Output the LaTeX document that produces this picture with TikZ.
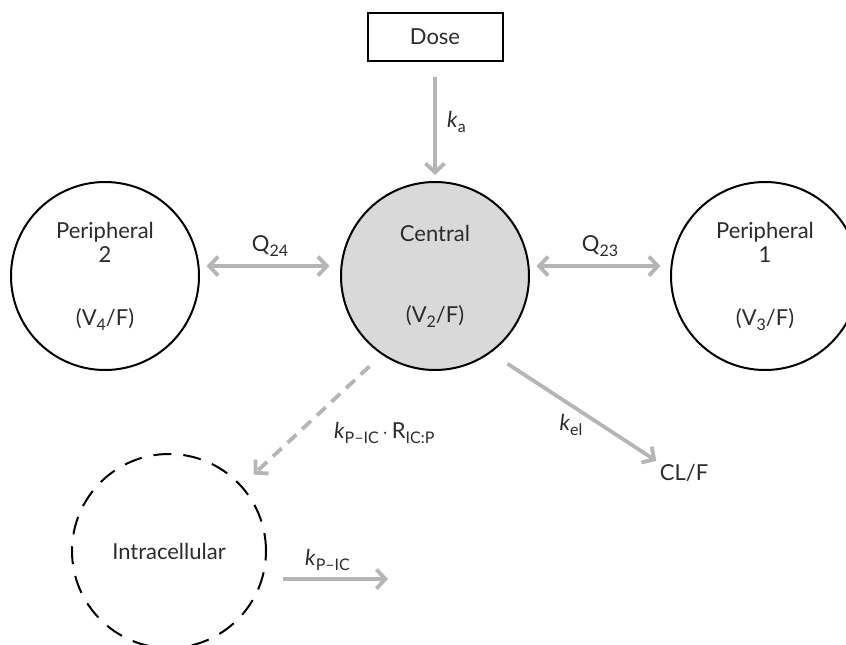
\documentclass[tikz,border=0pt]{standalone}
\usepackage{fontspec}
\setmainfont{Lato}
\usetikzlibrary{positioning,arrows.meta}
\definecolor{flowgray}{HTML}{B5B5B5}
\definecolor{inkgray}{HTML}{2B2B2B}
\newcommand{\lowsub}[1]{\raisebox{-0.45ex}{\fontsize{16}{16}\selectfont #1}}

\begin{document}
\begin{tikzpicture}[x=1pt, y=-1pt, node distance=140pt,
    >={Straight Barb[length=9pt,width=19pt]},
    every node/.style={font=\fontsize{22}{24}\selectfont, text=inkgray},
    comp/.style={circle, draw=black, line width=2pt, minimum size=188pt, align=center, inner sep=0pt},
    flow/.style={draw=flowgray, line width=3.8pt}]
    \useasboundingbox (0,0) rectangle (846,645);

    % compartments
    \node[comp, fill=black!15] (central) at (435,276) {Central\\[57pt](V\lowsub{2}/F)};
    \node[comp, left=of central] (periph2) {Peripheral\\2\\[39pt](V\lowsub{4}/F)};
    \node[comp, right=of central] (periph1) {Peripheral\\1\\[39pt](V\lowsub{3}/F)};
    \node[comp, dashed, dash pattern=on 18pt off 12pt, minimum size=194pt] (intra) at (169,551) {Intracellular};

    % dose and elimination
    \node[draw=black, line width=2pt, minimum width=135pt, minimum height=48pt, above=119pt of central] (dose) {Dose};
    \node (clf) at (684,473) {CL/F};
    \coordinate (icout) at (388,579);

    % absorption
    \draw[flow, ->, shorten <=15pt, shorten >=6pt] (dose) -- node[right=7pt] {\textit{k}\lowsub{a}} (central);

    % distribution
    \draw[flow, <->, shorten <=7pt, shorten >=11pt] (periph2.6) -- node[above=4pt] {Q\lowsub{24}} (central.174);
    \draw[flow, <->, shorten <=7pt, shorten >=10pt] (central.6) -- node[above=4pt] {Q\lowsub{23}} (periph1.174);

    % uptake into cells
    \draw[flow, ->, dash pattern=on 12pt off 8pt, shorten <=17pt, shorten >=16pt] (central.236) -- node[anchor=west, xshift=17pt, yshift=-13pt] {\textit{k}\lowsub{P--IC}\,$\cdot$\,R\lowsub{IC:P}} (intra.42);

    % elimination
    \draw[flow, ->, shorten <=20pt] (central.306) -- node[below left=2pt and -14pt] {\textit{k}\lowsub{el}} (clf.north west);
    \draw[flow, ->, shorten <=16pt] (intra.east |- icout) -- node[above=3pt] {\textit{k}\lowsub{P--IC}} (icout);

\end{tikzpicture}
\end{document}
